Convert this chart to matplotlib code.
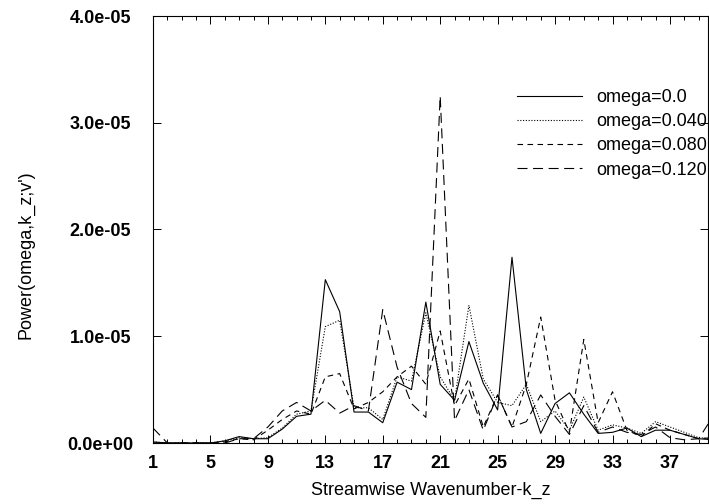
import numpy as np
import matplotlib
matplotlib.use("Agg")
import matplotlib.pyplot as plt
from matplotlib.ticker import MultipleLocator, FixedLocator

plt.rcParams['font.family'] = ['Liberation Sans', 'DejaVu Sans']

# streamwise wavenumber k_z
kz = list(range(1, 41))

# power values, units of 1e-5
p_000 = [0.01, 0.0, 0.0, 0.0, 0.0, 0.02, 0.06, 0.04, 0.04, 0.13,
         0.25, 0.27, 1.53, 1.23, 0.29, 0.29, 0.19, 0.57, 0.50, 1.32,
         0.55, 0.40, 0.95, 0.56, 0.31, 1.74, 0.50, 0.09, 0.37, 0.47,
         0.27, 0.09, 0.10, 0.14, 0.06, 0.12, 0.12, 0.08, 0.04, 0.03]
p_040 = [0.01, 0.0, 0.0, 0.0, 0.0, 0.02, 0.05, 0.04, 0.05, 0.14,
         0.27, 0.30, 1.09, 1.15, 0.33, 0.33, 0.22, 0.62, 0.58, 1.22,
         0.62, 0.40, 1.29, 0.60, 0.38, 0.35, 0.55, 0.20, 0.30, 0.12,
         0.43, 0.12, 0.17, 0.14, 0.09, 0.20, 0.15, 0.10, 0.05, 0.04]
p_080 = [0.0, 0.0, 0.0, 0.0, 0.0, 0.01, 0.04, 0.03, 0.12, 0.22,
         0.30, 0.27, 0.62, 0.65, 0.32, 0.38, 0.48, 0.62, 0.72, 0.55,
         1.05, 0.35, 0.60, 0.15, 0.45, 0.15, 0.55, 1.18, 0.40, 0.10,
         0.97, 0.19, 0.48, 0.12, 0.06, 0.18, 0.12, 0.08, 0.04, 0.05]
p_120 = [0.14, 0.0, 0.0, 0.0, 0.0, 0.0, 0.04, 0.04, 0.15, 0.30,
         0.38, 0.30, 0.40, 0.28, 0.35, 0.30, 1.25, 0.71, 0.37, 0.24,
         3.25, 0.21, 0.50, 0.12, 0.45, 0.15, 0.20, 0.45, 0.25, 0.08,
         0.35, 0.10, 0.15, 0.10, 0.08, 0.15, 0.05, 0.03, 0.04, 0.25]

labels = ['omega=0.0', 'omega=0.040', 'omega=0.080', 'omega=0.120']

fig = plt.figure(figsize=(7.09, 5.04), dpi=100)
ax = fig.add_axes([153/709, 1-443/504, 555/709, 427/504])

lw = 0.8
ax.plot(kz, np.array(p_000)*1e-5, color='black', lw=lw, ls='-', label=labels[0])
ax.plot(kz, np.array(p_040)*1e-5, color='black', lw=lw, ls=(0, (1, 1.5)), label=labels[1])
ax.plot(kz, np.array(p_080)*1e-5, color='black', lw=lw, ls=(0, (5, 4)), label=labels[2])
ax.plot(kz, np.array(p_120)*1e-5, color='black', lw=lw, ls=(0, (9, 5)), label=labels[3])

ax.set_xlim(1, 39.65)
ax.set_ylim(0, 4e-5)
ax.xaxis.set_major_locator(FixedLocator([1, 5, 9, 13, 17, 21, 25, 29, 33, 37]))
ax.xaxis.set_minor_locator(MultipleLocator(1))
ax.yaxis.set_major_locator(MultipleLocator(1e-5))
ax.yaxis.set_major_formatter(lambda v, pos: '%.1e' % v)
ax.tick_params(which='both', direction='in', top=True, right=True, width=0.7)
ax.tick_params(which='major', length=6, labelsize=13)
ax.tick_params(which='minor', length=3)
ax.tick_params(axis='x', which='major', pad=9)
# y tick labels are centred, around x=100 px
ax.tick_params(axis='y', which='major', pad=38)
for t in ax.get_yticklabels():
    t.set_horizontalalignment('center')
for t in ax.get_xticklabels() + ax.get_yticklabels():
    t.set_fontweight('bold')
for s in ax.spines.values():
    s.set_linewidth(0.8)

ax.set_xlabel('Streamwise Wavenumber-k_z', fontsize=13)
ax.xaxis.set_label_coords(0.5, (443-490)/427, transform=ax.transAxes)
ax.xaxis.label.set_va('center')
ax.set_ylabel("Power(omega,k_z;v')", fontsize=13)
ax.yaxis.set_label_coords((26-153)/555, (443-255)/427, transform=ax.transAxes)
ax.yaxis.label.set_va('center')

ax.legend(loc='upper right', bbox_to_anchor=(0.998, 0.829), frameon=False,
          fontsize=13, handlelength=3.6, labelspacing=0.4, handletextpad=0.8,
          borderpad=0, borderaxespad=0)

fig.savefig('out.png', dpi=100)
